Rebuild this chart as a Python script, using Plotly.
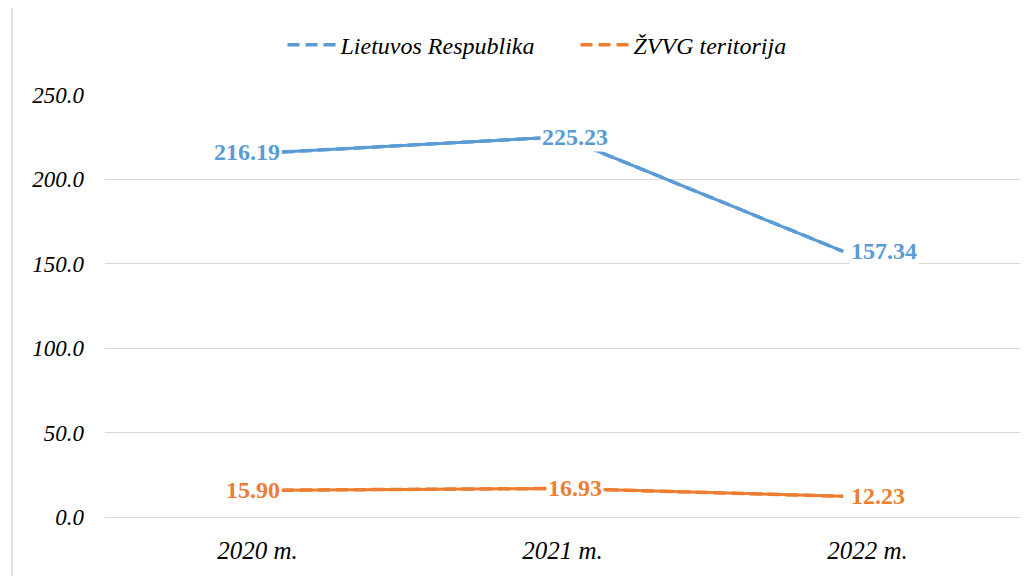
import plotly.graph_objects as go

years = ["2020 m.", "2021 m.", "2022 m."]
lr_values = [216.19, 225.23, 157.34]
zvvg_values = [15.90, 16.93, 12.23]
series_names = ["Lietuvos Respublika", "ŽVVG teritorija"]
y_ticks = [0, 50, 100, 150, 200, 250]

blue = "#5B9BD5"
orange = "#ED7D31"
serif = "Times New Roman"

fig = go.Figure()
# dashed traces only feed the legend, solid ones are drawn on top
fig.add_trace(go.Scatter(x=years, y=lr_values, name=series_names[0], mode="lines",
                         xaxis="x2", line=dict(color=blue, width=3.5, dash="12px,6px")))
fig.add_trace(go.Scatter(x=years, y=zvvg_values, name=series_names[1], mode="lines",
                         xaxis="x2", line=dict(color=orange, width=3.5, dash="12px,6px")))
fig.add_trace(go.Scatter(x=years, y=lr_values, mode="lines", showlegend=False,
                         xaxis="x2", line=dict(color=blue, width=3)))
fig.add_trace(go.Scatter(x=years, y=zvvg_values, mode="lines", showlegend=False,
                         xaxis="x2", line=dict(color=orange, width=3)))
# invisible trace so the labelled category axis has its categories
fig.add_trace(go.Scatter(x=years, y=lr_values, mode="none", showlegend=False,
                         hoverinfo="skip"))

anchors = ["right", "center", "left"]
shifts = [0, 12, 6]
for vals, col in [(lr_values, blue), (zvvg_values, orange)]:
    for yr, v, a, s in zip(years, vals, anchors, shifts):
        fig.add_annotation(x=yr, y=v, xref="x2", text="%.2f" % v, showarrow=False,
                           xanchor=a, yanchor="middle", xshift=s, bgcolor="white",
                           font=dict(family=serif, size=24, color=col, weight="bold"))

# outer chart border
fig.add_shape(type="rect", xref="paper", yref="paper", x0=-0.1016, x1=1.011,
              y0=-0.2, y1=1.2085, line=dict(color="#d9d9d9", width=1.5), layer="below")

fig.update_layout(
    width=1034, height=576,
    margin=dict(l=97, r=22, t=87, b=67),
    plot_bgcolor="white", paper_bgcolor="white",
    font=dict(family=serif, size=22, color="black"),
    legend=dict(orientation="h", x=0.194, xanchor="left", y=1.118, yanchor="middle",
                font=dict(family=serif, size=24, style="italic", color="black"),
                entrywidth=230, itemwidth=48),
    xaxis=dict(range=[-0.5, 2.5], showgrid=False, showline=False, ticks="",
               ticklabelstandoff=16, automargin=False,
               tickfont=dict(family=serif, size=25, style="italic")),
    xaxis2=dict(range=[-0.63, 2.63], overlaying="x", visible=False, automargin=False),
    yaxis=dict(range=[0, 250], tickvals=y_ticks, tickformat=".1f",
               gridcolor="#d9d9d9", gridwidth=1, zeroline=True, zerolinecolor="#d9d9d9",
               zerolinewidth=1, showline=False, ticklabelstandoff=20, automargin=False,
               tickfont=dict(family=serif, size=23, style="italic")),
)

fig.write_html("out.html")
